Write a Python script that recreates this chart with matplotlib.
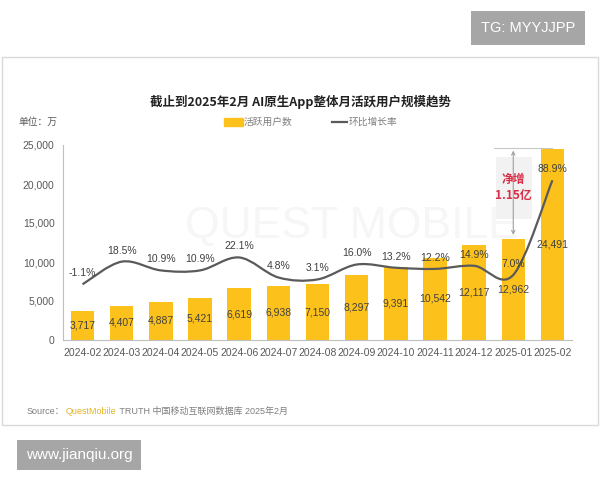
import numpy as np
import matplotlib
matplotlib.use("Agg")
import matplotlib.pyplot as plt
from matplotlib.path import Path
from matplotlib.patches import PathPatch, Rectangle

plt.rcParams['font.family'] = ['Liberation Sans', 'Noto Sans CJK SC', 'DejaVu Sans']

# data
months = ["2024-02", "2024-03", "2024-04", "2024-05", "2024-06", "2024-07", "2024-08",
          "2024-09", "2024-10", "2024-11", "2024-12", "2025-01", "2025-02"]
mau = [3717, 4407, 4887, 5421, 6619, 6938, 7150, 8297, 9391, 10542, 12117, 12962, 24491]
mom = [-1.1, 18.5, 10.9, 10.9, 22.1, 4.8, 3.1, 16.0, 13.2, 12.2, 14.9, 7.0, 88.9]
yticks = [0, 5000, 10000, 15000, 20000, 25000]

BAR = "#FCC21B"
LINE = "#5a5a5a"
TXT = "#404040"

fig = plt.figure(figsize=(6, 4.8), dpi=100)

# outer frame of the card
fig.patches.append(Rectangle((2 / 600, 1 - 425 / 480), 596 / 600, 368 / 480,
                             transform=fig.transFigure, fill=False,
                             edgecolor="#d9d9d9", lw=1))

ax = fig.add_axes([63 / 600, 1 - 340 / 480, 509 / 600, 195 / 480])
x = np.arange(len(months))

# faint watermark
ax.text(0.24, 0.58, "QUEST MOBILE", transform=ax.transAxes, fontsize=32,
        color="#f6f6f6", va="center", ha="left", zorder=0)

ax.bar(x, mau, width=0.6, color=BAR, zorder=2)
for xi, v in zip(x, mau):
    ax.text(xi, v / 2, f"{v:,}", ha="center", va="center", fontsize=7.5,
            color=TXT, zorder=4)

ax.set_xlim(-0.5, len(months) - 0.5)
ax.set_ylim(0, 25000)
ax.set_yticks(yticks)
ax.set_yticklabels([f"{t:,}" for t in yticks], fontsize=7.5, color="#595959")
ax.set_xticks(x)
ax.set_xticklabels(months, fontsize=7.5, color="#595959")
ax.tick_params(length=0, pad=6)
for s in ["top", "right"]:
    ax.spines[s].set_visible(False)
for s in ["left", "bottom"]:
    ax.spines[s].set_color("#bfbfbf")

# growth rate on a hidden second axis, smoothed like an Excel line
ax2 = ax.twinx()
ax2.set_ylim(-49.3, 119.4)
ax2.axis("off")
pts = np.column_stack([x, mom]).astype(float)
verts = [pts[0]]
codes = [Path.MOVETO]
for i in range(len(pts) - 1):
    p0 = pts[max(i - 1, 0)]
    p1 = pts[i]
    p2 = pts[i + 1]
    p3 = pts[min(i + 2, len(pts) - 1)]
    verts += [p1 + (p2 - p0) / 6, p2 - (p3 - p1) / 6, p2]
    codes += [Path.CURVE4] * 3
ax2.add_patch(PathPatch(Path(verts, codes), fill=False, edgecolor=LINE, lw=1.6, zorder=3))
for xi, v in zip(x, mom):
    ax2.annotate(f"{v:.1f}%", (xi, v), xytext=(0, 8), textcoords="offset points",
                 ha="center", va="center", fontsize=7.5, color=TXT, zorder=4)

# net increase callout
ax.plot([11 - 0.5, 12], [mau[-1] + 150, mau[-1] + 150], color="#c8c8c8", lw=0.8, zorder=1)
ax.add_patch(Rectangle((10.55, 15500), 0.92, 8000, facecolor="#f2f2f2",
                       edgecolor="none", zorder=1))
ax.annotate("", xy=(11, mau[-1] + 150), xytext=(11, mau[-2] + 150),
            arrowprops=dict(arrowstyle="<->", color="#a0a0a0", lw=0.8,
                            mutation_scale=6), zorder=2)
ax.text(11, 19600, "净增\n1.15亿", ha="center", va="center", fontsize=8.5,
        color="#d9304a", fontweight="bold", linespacing=1.3, zorder=3,
        family=["Noto Sans CJK SC"])

# title and legend
fig.text(0.5, 1 - 102 / 480, "截止到2025年2月 AI原生App整体月活跃用户规模趋势",
         ha="center", va="center", fontsize=9, fontweight="bold", color="#222222",
         family=["Noto Sans CJK SC"])
fig.text(18 / 600, 1 - 122 / 480, "单位：万", ha="left", va="center", fontsize=7,
         color="#595959", family=["Noto Sans CJK SC"])
fig.patches.append(Rectangle((224 / 600, 1 - 126 / 480), 19 / 600, 8 / 480,
                             transform=fig.transFigure, color=BAR))
fig.text(244 / 600, 1 - 122 / 480, "活跃用户数", ha="left", va="center", fontsize=7,
         color="#7f7f7f", family=["Noto Sans CJK SC"])
fig.lines.append(plt.Line2D([332 / 600, 347 / 600], [1 - 122 / 480, 1 - 122 / 480],
                            transform=fig.transFigure, color=LINE, lw=1.6))
fig.text(349 / 600, 1 - 122 / 480, "环比增长率", ha="left", va="center", fontsize=7,
         color="#7f7f7f", family=["Noto Sans CJK SC"])

# source line, pieces chained one after another
src = fig.text(27 / 600, 1 - 411 / 480, "Source：", ha="left", va="center",
               fontsize=6.5, color="#7f7f7f")
qm = plt.annotate("QuestMobile", xy=(1, 0.5), xycoords=src, xytext=(1, 0),
                  textcoords="offset points", ha="left", va="center",
                  fontsize=6.5, color="#e6b422", annotation_clip=False)
plt.annotate(" TRUTH 中国移动互联网数据库 2025年2月", xy=(1, 0.5), xycoords=qm,
             ha="left", va="center", fontsize=6.5, color="#7f7f7f",
             annotation_clip=False)

# site stamps
fig.text(528 / 600, 1 - 28 / 480, "TG: MYYJJPP", ha="center", va="center",
         fontsize=10.5, color="white",
         bbox=dict(boxstyle="square,pad=0.7", facecolor="#a6a6a6", edgecolor="none"))
fig.text(79 / 600, 1 - 455 / 480, "www.jianqiu.org", ha="center", va="center",
         fontsize=11, color="white",
         bbox=dict(boxstyle="square,pad=0.55", facecolor="#a6a6a6", edgecolor="none"))

fig.savefig("out.png", dpi=100)
